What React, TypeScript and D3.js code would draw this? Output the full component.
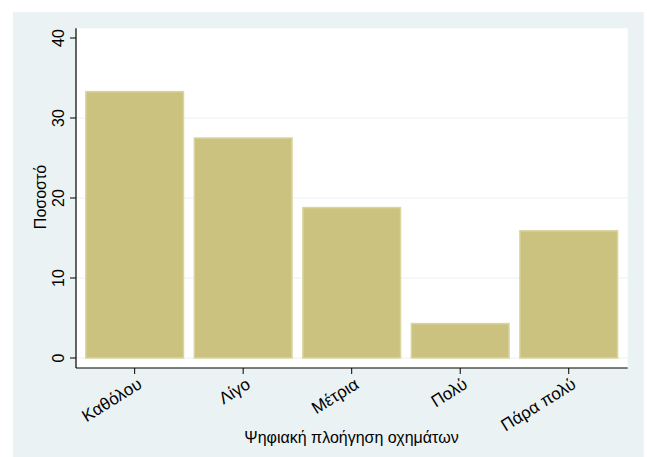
import React from "react";
import * as d3 from "d3";

const categories = ["Καθόλου", "Λίγο", "Μέτρια", "Πολύ", "Πάρα πολύ"];
const values = [33.3, 27.5, 18.8, 4.3, 15.9];
const yTicks = [0, 10, 20, 30, 40];
const gridTicks = [0, 10, 20, 30];
const xTitle = "Ψηφιακή πλοήγηση οχημάτων";
const yTitle = "Ποσοστό";

const W = 647;
const H = 457;
const font = "'Liberation Sans', Arial, sans-serif";

export default function App() {
  const plotL = 76, plotR = 627.7, plotT = 28.3, plotB = 368;
  const x = d3.scaleBand<string>().domain(categories).range([80.4, 623]).paddingInner(0).paddingOuter(0);
  const y = d3.scaleLinear().domain([0, 40]).range([358, 38]);
  const bw = x.bandwidth();
  const barW = bw * 0.9;
  return (
    <svg width={W} height={H} style={{ position: "absolute", left: 0, top: 0 }}>
      <rect x={0} y={0} width={W} height={H} fill="#ffffff" />
      <rect x={13} y={12} width={630.7} height={H - 12} fill="#eaf2f3" />
      <rect x={plotL} y={plotT} width={plotR - plotL} height={plotB - plotT} fill="#ffffff" />
      {gridTicks.map((t) => (
        <line key={"g" + t} x1={plotL} x2={plotR} y1={y(t)} y2={y(t)} stroke="#eaf2f3" strokeWidth={1.2} />
      ))}
      {categories.map((c, i) => {
        const cx = (x(c) as number) + bw / 2;
        return (
          <rect
            key={c}
            x={cx - barW / 2}
            y={y(values[i])}
            width={barW}
            height={y(0) - y(values[i])}
            fill="#cac27e"
            stroke="#dad59f"
            strokeWidth={1.5}
          />
        );
      })}
      <line x1={plotL} x2={plotL} y1={plotT} y2={plotB} stroke="#000" strokeWidth={1.2} />
      <line x1={plotL} x2={plotR} y1={plotB} y2={plotB} stroke="#000" strokeWidth={1.2} />
      {yTicks.map((t) => (
        <g key={"y" + t}>
          <line x1={plotL - 6} x2={plotL} y1={y(t)} y2={y(t)} stroke="#000" strokeWidth={1} />
          <text
            transform={`translate(${64},${y(t)}) rotate(-90)`}
            textAnchor="middle"
            fontFamily={font}
            fontSize={16}
            fill="#000"
          >
            {t}
          </text>
        </g>
      ))}
      {categories.map((c) => {
        const cx = (x(c) as number) + bw / 2;
        return (
          <g key={"x" + c}>
            <line x1={cx} x2={cx} y1={plotB} y2={plotB + 6} stroke="#000" strokeWidth={1} />
            <text
              transform={`translate(${cx + 2},${plotB + 9}) rotate(-32)`}
              textAnchor="end"
              dominantBaseline="hanging"
              fontFamily={font}
              fontSize={17}
              fill="#000"
            >
              {c}
            </text>
          </g>
        );
      })}
      <text x={351.5} y={443} textAnchor="middle" fontFamily={font} fontSize={16} fill="#000">
        {xTitle}
      </text>
      <text
        transform={`translate(45.5,${197}) rotate(-90)`}
        textAnchor="middle"
        fontFamily={font}
        fontSize={16}
        fill="#000"
      >
        {yTitle}
      </text>
    </svg>
  );
}
